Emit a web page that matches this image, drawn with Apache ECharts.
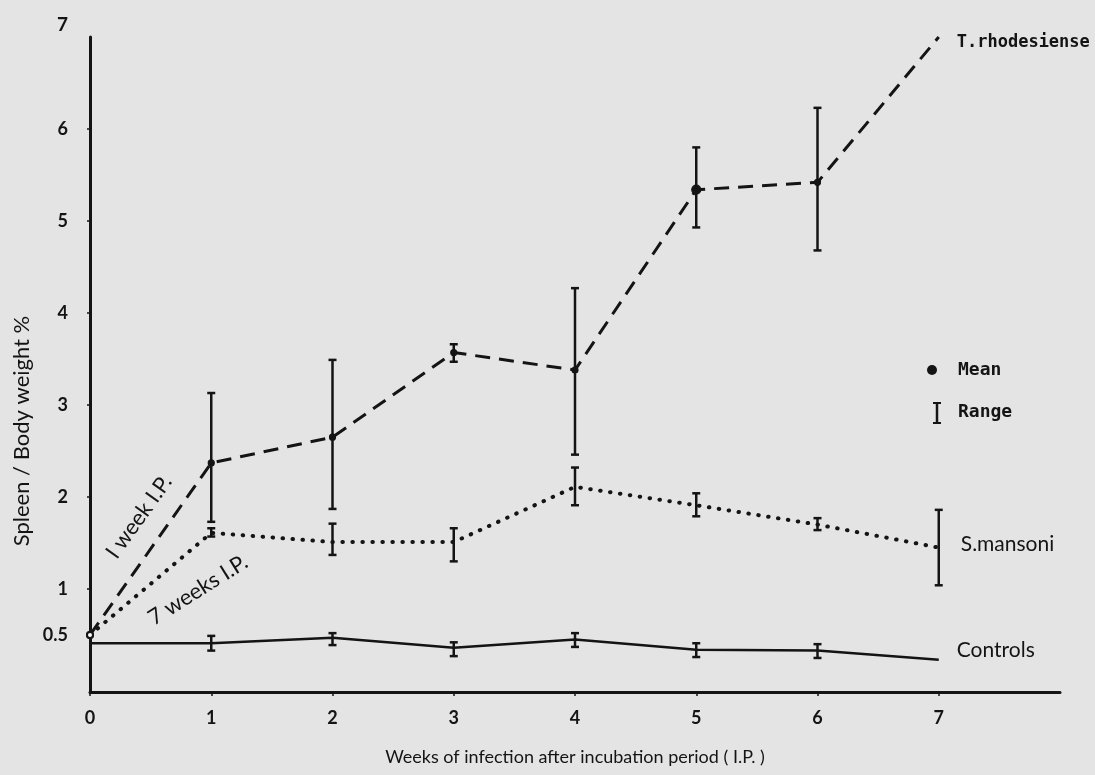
<!DOCTYPE html>
<html>
<head>
<meta charset="utf-8">
<script src="https://cdn.jsdelivr.net/npm/echarts@6/dist/echarts.min.js"></script>
<style>
html,body{margin:0;padding:0;background:#e4e4e4;}
#chart{width:1095px;height:775px;}
</style>
</head>
<body>
<div id="chart"></div>
<script>
// ---- data ----
const weeks = [0, 1, 2, 3, 4, 5, 6, 7];
const xTickLabels = [0, 1, 2, 3, 4, 5, 6, 7];
const yTickLabels = [0.5, 1, 2, 3, 4, 5, 6, 7];

const tMean = [0.5, 2.37, 2.65, 3.57, 3.38, 5.34, 5.42, 7.0];
const tLow  = [null, 1.73, 1.87, 3.47, 2.46, 4.93, 4.68, null];
const tHigh = [null, 3.13, 3.49, 3.66, 4.27, 5.80, 6.23, null];

const sMean = [0.5, 1.61, 1.51, 1.51, 2.11, 1.91, 1.70, 1.45];
const sLow  = [null, 1.57, 1.37, 1.30, 1.91, 1.79, 1.64, 1.04];
const sHigh = [null, 1.66, 1.71, 1.66, 2.32, 2.04, 1.77, 1.86];

const cMean = [0.41, 0.41, 0.47, 0.36, 0.45, 0.34, 0.33, 0.23];
const cLow  = [null, 0.33, 0.39, 0.27, 0.37, 0.26, 0.25, null];
const cHigh = [null, 0.49, 0.52, 0.42, 0.52, 0.41, 0.40, null];

const seriesNames = ['T.rhodesiense', 'S.mansoni', 'Controls'];
const xTitle = 'Weeks of infection after incubation period ( I.P. )';
const yTitle = 'Spleen / Body weight %';

// ---- helpers ----
const INK = '#141414';
const geo = 'Lato, "Noto Sans", sans-serif';
const W = 'normal';
const mono = '"DejaVu Sans Mono", "Liberation Mono", monospace';

function pairs(ys) { return weeks.map((w, i) => [w, ys[i]]); }
function ranges(lo, hi) {
  const out = [];
  weeks.forEach((w, i) => { if (lo[i] != null) out.push([w, lo[i], hi[i]]); });
  return out;
}
function errorSeries(lo, hi, width, cap) {
  return {
    type: 'custom',
    data: ranges(lo, hi),
    z: 5,
    renderItem: function (params, api) {
      const x = api.value(0);
      const a = api.coord([x, api.value(1)]);
      const b = api.coord([x, api.value(2)]);
      const st = { stroke: INK, lineWidth: width };
      return {
        type: 'group',
        children: [
          { type: 'line', shape: { x1: a[0], y1: a[1], x2: b[0], y2: b[1] }, style: st },
          { type: 'line', shape: { x1: a[0] - cap, y1: a[1], x2: a[0] + cap, y2: a[1] }, style: st },
          { type: 'line', shape: { x1: b[0] - cap, y1: b[1], x2: b[0] + cap, y2: b[1] }, style: st }
        ]
      };
    }
  };
}

const chart = echarts.init(document.getElementById('chart'), null, { renderer: 'canvas' });

const option = {
  backgroundColor: '#e4e4e4',
  animation: false,
  grid: { left: 90, right: 35, top: 37, bottom: 83, containLabel: false },
  xAxis: {
    type: 'value', min: 0, max: 8,
    name: xTitle, nameLocation: 'middle', nameGap: 56,
    nameTextStyle: { fontFamily: geo, fontSize: 18, fontWeight: W, color: INK },
    axisLine: { show: true, onZero: false, lineStyle: { color: INK, width: 3 } },
    axisTick: { show: true, customValues: xTickLabels, length: 4, inside: false, lineStyle: { color: INK, width: 1.5 } },
    axisLabel: { customValues: xTickLabels, margin: 17, fontFamily: geo, fontSize: 18, fontWeight: 'bold', color: INK },
    splitLine: { show: false }
  },
  yAxis: {
    type: 'value', min: -0.12, max: 7,
    axisLine: { show: true, onZero: false, lineStyle: { color: INK, width: 3 } },
    axisTick: { show: true, customValues: [1, 2, 3, 4, 5, 6], length: 3, lineStyle: { color: INK, width: 1.5 } },
    axisLabel: {
      customValues: yTickLabels, margin: 22, fontFamily: geo, fontSize: 18, fontWeight: 'bold', color: INK,
      formatter: function (v) { return v === 7 ? '{t|7}' : String(v); },
      rich: { t: { fontFamily: geo, fontSize: 19, color: INK, fontWeight: 'bold', padding: [0, 0, 24, 0] } }
    },
    splitLine: { show: false }
  },
  series: [
    {
      name: seriesNames[0], type: 'line', data: pairs(tMean), z: 6,
      symbol: function (v, p) { return p.dataIndex === 0 ? 'emptyCircle' : (p.dataIndex === weeks.length - 1 ? 'none' : 'circle'); },
      symbolSize: function (v, p) { return p.dataIndex === 5 ? 9 : 6; },
      itemStyle: { color: INK, borderColor: INK, borderWidth: 1.2 },
      lineStyle: { color: INK, width: 3, type: [15, 9] },
      endLabel: { show: true, formatter: '{a}', offset: [10, 6], fontFamily: mono, fontSize: 17, fontWeight: 'bold', color: INK }
    },
    {
      name: seriesNames[1], type: 'line', data: pairs(sMean), z: 6,
      symbol: function (v, p) { return p.dataIndex === 0 ? 'emptyCircle' : 'none'; },
      symbolSize: 6,
      itemStyle: { color: INK, borderColor: INK, borderWidth: 1.2 },
      lineStyle: { color: INK, width: 4, type: [0.5, 9.5], cap: 'round' },
      endLabel: { show: true, formatter: '{a}', offset: [14, -3], fontFamily: geo, fontSize: 21, fontWeight: W, color: INK }
    },
    {
      name: seriesNames[2], type: 'line', data: pairs(cMean), z: 6,
      symbol: 'none',
      lineStyle: { color: INK, width: 2.5 },
      endLabel: { show: true, formatter: '{a}', offset: [10, -10], fontFamily: geo, fontSize: 21, fontWeight: W, color: INK }
    },
    errorSeries(tLow, tHigh, 2.5, 4),
    errorSeries(sLow, sHigh, 2.5, 4),
    errorSeries(cLow, cHigh, 2.5, 4)
  ],
  graphic: [
    { type: 'text', x: 22, y: 431, rotation: Math.PI / 2,
      style: { text: yTitle, fontFamily: geo, fontSize: 22, fontWeight: W, fill: INK, align: 'center', verticalAlign: 'middle' } },
    { type: 'text', x: 139, y: 517, rotation: 0.95,
      style: { text: 'I week I.P.', fontFamily: geo, fontSize: 22, fontWeight: W, fill: INK, align: 'center', verticalAlign: 'middle' } },
    { type: 'text', x: 198, y: 590, rotation: 0.56,
      style: { text: '7 weeks I.P.', fontFamily: geo, fontSize: 22, fontWeight: W, fill: INK, align: 'center', verticalAlign: 'middle' } },
    { type: 'circle', shape: { cx: 932, cy: 370, r: 5 }, style: { fill: INK } },
    { type: 'text', x: 958, y: 370,
      style: { text: 'Mean', fontFamily: mono, fontSize: 18, fontWeight: 'bold', fill: INK, align: 'left', verticalAlign: 'middle' } },
    { type: 'group', children: [
      { type: 'line', shape: { x1: 937, y1: 403, x2: 937, y2: 423 }, style: { stroke: INK, lineWidth: 2.5 } },
      { type: 'line', shape: { x1: 933, y1: 403, x2: 941, y2: 403 }, style: { stroke: INK, lineWidth: 2 } },
      { type: 'line', shape: { x1: 933, y1: 423, x2: 941, y2: 423 }, style: { stroke: INK, lineWidth: 2 } }
    ] },
    { type: 'text', x: 958, y: 412,
      style: { text: 'Range', fontFamily: mono, fontSize: 18, fontWeight: 'bold', fill: INK, align: 'left', verticalAlign: 'middle' } }
  ]
};
chart.setOption(option);
</script>
</body>
</html>
